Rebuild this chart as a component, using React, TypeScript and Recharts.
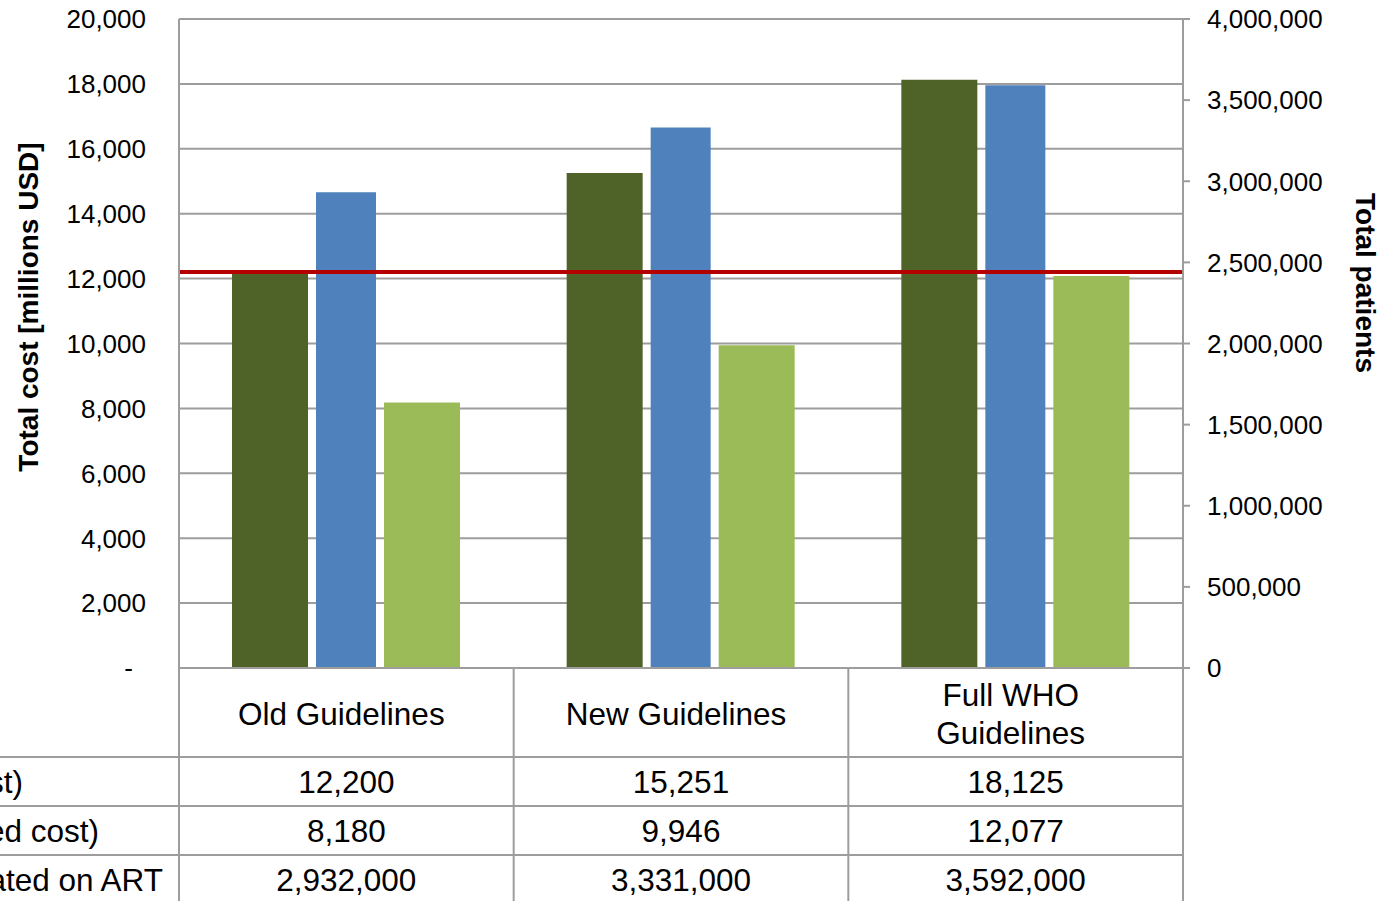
import { ComposedChart, Bar, XAxis, YAxis, CartesianGrid, ReferenceLine } from "recharts";

const categories = ["Old Guidelines", "New Guidelines", "Full WHO Guidelines"];
const headerLines = [["Old Guidelines"], ["New Guidelines"], ["Full WHO", "Guidelines"]];
const totalCost = [12200, 15251, 18125];
const reducedCost = [8180, 9946, 12077];
const patientsOnArt = [2932000, 3331000, 3592000];
const budgetLine = 12200;
// row labels are cut off at the left edge of the picture
const rowLabels = ["st)", "ed cost)", "ated on ART"];
const costTicks = [0, 2000, 4000, 6000, 8000, 10000, 12000, 14000, 16000, 18000, 20000];
const patientTicks = [0, 500000, 1000000, 1500000, 2000000, 2500000, 3000000, 3500000, 4000000];

const colors = {
    darkGreen: "#4f6228",
    blue: "#4f81bd",
    lightGreen: "#9bbb59",
    red: "#b50000",
    grid: "#9d9d9d",
};

const FONT = "'Liberation Sans', Arial, sans-serif";

// layout
const W = 1393;
const H = 901;
const TOP = 19;
const LEFT_W = 179;
const RIGHT_W = 210;
const TABLE_H = 233;
const PLOT_W = W - LEFT_W - RIGHT_W;
const PLOT_BOTTOM = H - TABLE_H;
const HEADER_H = 89;
const ROW_H = 49;
const TABLE_FONT = 31.5;
const rowLabelEnds = [23, 99, 163];

const data = categories.map((name, i) => ({
    name,
    cost: totalCost[i],
    patients: patientsOnArt[i],
    reduced: reducedCost[i],
}));

const tableRows = [totalCost, reducedCost, patientsOnArt];

const fmt = (v: number) => v.toLocaleString("en-US");

function TableColumn(props: any) {
    const { x, payload } = props;
    const index = payload.index ?? props.index;
    const band = PLOT_W / categories.length;
    const left = x - band / 2;
    const right = x + band / 2;
    const top = PLOT_BOTTOM;
    const lines = headerLines[index] || [payload.value];
    const lineStyle = { stroke: colors.grid, strokeWidth: 2 };

    return (
        <g>
            {index === 0 && <line x1={left} x2={left} y1={top} y2={H} {...lineStyle} />}
            <line x1={right} x2={right} y1={top} y2={H} {...lineStyle} />
            {tableRows.map((_, r) => {
                const y = top + HEADER_H + r * ROW_H;
                return (
                    <g key={r}>
                        <line x1={index === 0 ? 0 : left} x2={right} y1={y} y2={y} {...lineStyle} />
                        {index === 0 && (
                            <text
                                x={rowLabelEnds[r]}
                                y={y + 36}
                                textAnchor="end"
                                fontFamily={FONT}
                                fontSize={TABLE_FONT}
                                fill="#000"
                            >
                                {rowLabels[r]}
                            </text>
                        )}
                    </g>
                );
            })}
            {lines.map((line: string, i: number) => (
                <text
                    key={i}
                    x={x - 5}
                    y={top + 57 + (i - (lines.length - 1) / 2) * 38}
                    textAnchor="middle"
                    fontFamily={FONT}
                    fontSize={TABLE_FONT}
                    fill="#000"
                >
                    {line}
                </text>
            ))}
            {tableRows.map((row, r) => (
                <text
                    key={r}
                    x={x}
                    y={top + HEADER_H + r * ROW_H + 36}
                    textAnchor="middle"
                    fontFamily={FONT}
                    fontSize={TABLE_FONT}
                    fill="#000"
                >
                    {fmt(row[index])}
                </text>
            ))}
        </g>
    );
}

function CostTick(props: any) {
    const { x, y, payload } = props;
    const zero = payload.value === 0;
    return (
        <text
            x={zero ? x - 13 : x}
            y={y}
            dy="0.36em"
            textAnchor="end"
            fontFamily={FONT}
            fontSize={26}
            fill="#000"
        >
            {zero ? "-" : fmt(payload.value)}
        </text>
    );
}

function PatientTick(props: any) {
    const { x, y, payload } = props;
    return (
        <text x={x} y={y} dy="0.36em" textAnchor="start" fontFamily={FONT} fontSize={26} fill="#000">
            {fmt(payload.value)}
        </text>
    );
}

const AxisTitle = ({ text, cx, cy, angle }: { text: string; cx: number; cy: number; angle: number }) => (
    <text
        x={cx}
        y={cy}
        transform={`rotate(${angle} ${cx} ${cy})`}
        textAnchor="middle"
        dominantBaseline="central"
        fontFamily={FONT}
        fontSize={28}
        fontWeight="bold"
        fill="#000"
    >
        {text}
    </text>
);

export default function App() {
    return (
        <div style={{ position: "absolute", left: 0, top: 0, width: W, height: H, overflow: "hidden", background: "#fff" }}>
            <ComposedChart
                width={W}
                height={H}
                data={data}
                margin={{ top: TOP, right: 0, bottom: 0, left: 0 }}
                barGap={8}
            >
                <CartesianGrid
                    yAxisId="left"
                    vertical={false}
                    stroke={colors.grid}
                    strokeWidth={2}
                />
                <XAxis
                    dataKey="name"
                    height={TABLE_H}
                    interval={0}
                    tickSize={0}
                    tickMargin={0}
                    tickLine={false}
                    axisLine={{ stroke: colors.grid, strokeWidth: 2 }}
                    tick={<TableColumn />}
                />
                <YAxis
                    yAxisId="left"
                    width={LEFT_W}
                    domain={[0, 20000]}
                    ticks={costTicks}
                    interval={0}
                    tickLine={false}
                    tickSize={0}
                    tickMargin={33}
                    axisLine={{ stroke: colors.grid, strokeWidth: 2 }}
                    tick={<CostTick />}
                    label={{
                        content: () => <AxisTitle text="Total cost [millions USD]" cx={28} cy={307} angle={-90} />,
                    }}
                />
                <YAxis
                    yAxisId="right"
                    orientation="right"
                    width={RIGHT_W}
                    domain={[0, 4000000]}
                    ticks={patientTicks}
                    interval={0}
                    tickSize={7}
                    tickMargin={17}
                    tickLine={{ stroke: colors.grid, strokeWidth: 2 }}
                    axisLine={{ stroke: colors.grid, strokeWidth: 2 }}
                    tick={<PatientTick />}
                    label={{
                        content: () => <AxisTitle text="Total patients" cx={1365} cy={283} angle={90} />,
                    }}
                />
                <Bar yAxisId="left" dataKey="cost" fill={colors.darkGreen} barSize={76} isAnimationActive={false} />
                <Bar yAxisId="right" dataKey="patients" fill={colors.blue} barSize={60} isAnimationActive={false} />
                <Bar yAxisId="left" dataKey="reduced" fill={colors.lightGreen} barSize={76} isAnimationActive={false} />
                <ReferenceLine yAxisId="left" y={budgetLine} stroke={colors.red} strokeWidth={4} />
            </ComposedChart>
        </div>
    );
}
